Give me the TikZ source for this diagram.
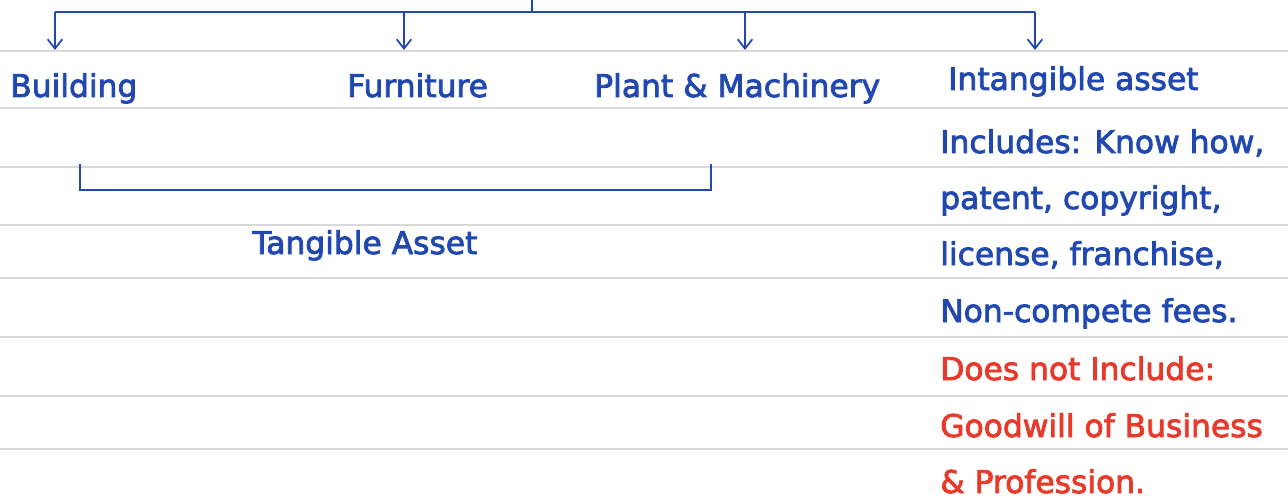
\documentclass[tikz,border=0pt]{standalone}
\usepackage{fontspec}
\setmainfont{DejaVu Sans}[BoldFont=DejaVu Sans, BoldFeatures={FakeBold=2.5}]
\usetikzlibrary{arrows.meta}
\definecolor{inkblue}{RGB}{33,72,176}
\definecolor{inkred}{RGB}{232,57,42}
\definecolor{rule}{RGB}{217,217,217}
\tikzset{
  ruling/.style={draw=rule, line width=1.5pt},
  wire/.style={draw=inkblue, line width=1.6pt},
  branch/.style={wire, -{Straight Barb[length=7pt,width=11pt,line width=1.3pt]}},
  lbl/.style={anchor=base west, inner sep=0pt, text=inkblue, font=\fontsize{23.5}{28}\selectfont\bfseries},
  redlbl/.style={lbl, text=inkred}
}
\begin{document}
\begin{tikzpicture}[x=0.75pt,y=-0.75pt]
  \useasboundingbox[fill=white] (0,0) rectangle (1288,499);
  % notebook ruling
  \foreach \yy in {51,108,167,225,278,337,396,449}
    \draw[ruling] (0,\yy) -- (1288,\yy);

  % category labels
  \node[lbl] (bld) at (10,97) {Building};
  \node[lbl] (fur) at (347,97) {Furniture};
  \node[lbl] (pm)  at (594,97) {Plant \& Machinery};
  \node[lbl] (ia)  at (948,90) {Intangible asset};
  \node[lbl] (ta)  at (252,254) {Tangible Asset};

  % details of intangible assets
  \node[lbl] (i1) at (940,153) {Includes: Know how,};
  \node[lbl] (i2) at (940,209) {patent, copyright,};
  \node[lbl] (i3) at (940,265) {license, franchise,};
  \node[lbl] (i4) at (940,322) {Non-compete fees.};
  \node[redlbl] (x1) at (940,380) {Does not Include:};
  \node[redlbl] (x2) at (940,437) {Goodwill of Business};
  \node[redlbl] (x3) at (940,493) {\& Profession.};

  % branching connector at the top
  \coordinate (root) at (532,0);
  \coordinate (hub)  at (532,12);
  \coordinate (jb) at (55,12);
  \coordinate (jf) at (404,12);
  \coordinate (jp) at (745,12);
  \coordinate (ji) at (1035,12);
  \coordinate (tb) at (55,50);
  \coordinate (tf) at (404,50);
  \coordinate (tp) at (745,50);
  \coordinate (ti) at (1035,50);
  \draw[wire] (root) -- (hub);
  \draw[wire] (jb) -- (ji);
  \draw[branch] (jb) -- (tb);
  \draw[branch] (jf) -- (tf);
  \draw[branch] (jp) -- (tp);
  \draw[branch] (ji) -- (ti);

  % bracket grouping the tangible assets
  \coordinate (bl) at (80,164);
  \coordinate (br) at (711,164);
  \draw[wire] (bl) -- (80,190) -- (711,190) -- (br);
\end{tikzpicture}
\end{document}
